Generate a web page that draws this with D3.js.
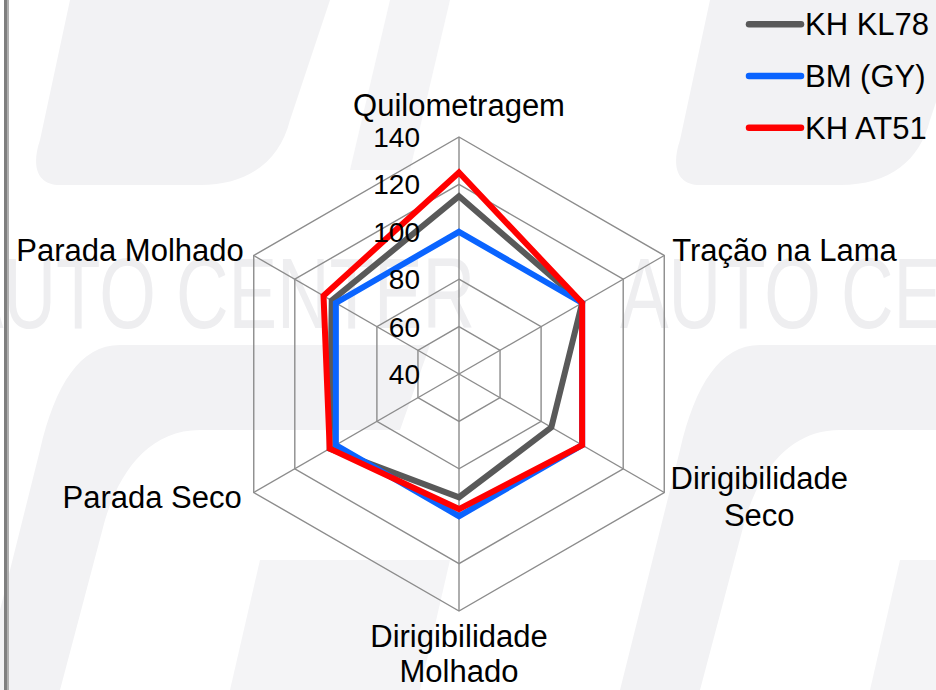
<!DOCTYPE html>
<html>
<head>
<meta charset="utf-8">
<script src="https://cdn.jsdelivr.net/npm/d3@7/dist/d3.min.js"></script>
<style>
  html, body { margin: 0; padding: 0; background: #ffffff; }
  svg { display: block; font-family: "Liberation Sans", Arial, sans-serif; }
</style>
</head>
<body>
<svg id="chart" width="936" height="690"></svg>
<script>
// ---- data ----
const axes = ["Quilometragem", "Tração na Lama", "Dirigibilidade Seco", "Dirigibilidade Molhado", "Parada Seco", "Parada Molhado"];
const seriesNames = ["KH KL78", "BM (GY)", "KH AT51"];
const khKL78 = [115, 100, 85, 92, 103, 102];
const bmGY   = [100, 100, 100, 100, 100, 100];
const khAT51 = [125, 100, 100, 97, 103, 106];
const tickValues = [40, 60, 80, 100, 120, 140];
const seriesColors = ["#595959", "#0a64ff", "#ff0000"];

// ---- layout ----
const svg = d3.select("#chart");
const W = 936, H = 690;
const cx = 459, cy = 374, R = 237;
const r = d3.scaleLinear().domain([40, 140]).range([0, R]);
const angle = d3.scaleLinear().domain([0, axes.length]).range([-Math.PI / 2, 1.5 * Math.PI]);
const pt = (i, v) => [cx + r(v) * Math.cos(angle(i)), cy + r(v) * Math.sin(angle(i))];

// ---- watermark background ----
const wm = svg.append("g").attr("class", "watermark");
[0, 640].forEach(off => {
  wm.append("path")
    .attr("d", `M${off + 70},0 L${off + 330},0 L${off + 290},120 C${off + 280},160 ${off + 250},185 ${off + 200},185 L${off + 60},185 C${off + 40},185 ${off + 30},170 ${off + 40},140 Z`)
    .attr("fill", "#f2f2f4");
  wm.append("path")
    .attr("d", `M${off + 390},0 L${off + 450},0 L${off + 410},170 L${off + 350},170 Z`)
    .attr("fill", "#f4f4f6");
  wm.append("path")
    .attr("d", `M${off + 120},345 L${off + 430},345 L${off + 400},430 L${off + 200},430 C${off + 150},430 ${off + 120},470 ${off + 105},520 L${off + 60},690 L${off - 20},690 L${off + 40},450 C${off + 55},385 ${off + 80},345 ${off + 120},345 Z`)
    .attr("fill", "#f2f2f4");
  wm.append("path")
    .attr("d", `M${off + 260},560 L${off + 450},560 L${off + 420},690 L${off + 230},690 Z`)
    .attr("fill", "#f4f4f6");
});
[-45, 620].forEach(x0 => {
  wm.append("text")
    .attr("x", x0).attr("y", 328)
    .attr("font-size", 100)
    .attr("textLength", 520).attr("lengthAdjust", "spacingAndGlyphs")
    .attr("fill", "#eeeef0")
    .text("AUTO CENTER");
});

// left frame bar
svg.append("rect").attr("x", 4).attr("y", 0).attr("width", 3).attr("height", H).attr("fill", "#7f7f7f");
svg.append("rect").attr("x", 7).attr("y", 0).attr("width", 2).attr("height", H).attr("fill", "#b0b0b0");

// ---- grid ----
const grid = svg.append("g");
tickValues.filter(v => v > 40).forEach(v => {
  grid.append("polygon")
    .attr("points", axes.map((a, i) => pt(i, v).join(",")).join(" "))
    .attr("fill", "none").attr("stroke", "#8c8c8c").attr("stroke-width", 1.4);
});
axes.forEach((a, i) => {
  const [x, y] = pt(i, 140);
  grid.append("line").attr("x1", cx).attr("y1", cy).attr("x2", x).attr("y2", y)
    .attr("stroke", "#8c8c8c").attr("stroke-width", 1.4);
});

// ---- series ----
const allSeries = [khKL78, bmGY, khAT51];
const lineGen = d3.lineRadial().angle((d, i) => angle(i) + Math.PI / 2).radius(d => r(d)).curve(d3.curveLinearClosed);
allSeries.forEach((vals, k) => {
  svg.append("path")
    .attr("transform", `translate(${cx},${cy})`)
    .attr("d", lineGen(vals))
    .attr("fill", "none")
    .attr("stroke", seriesColors[k])
    .attr("stroke-width", 6)
    .attr("stroke-linejoin", "miter");
});

// ---- tick labels ----
svg.append("g").selectAll("text").data(tickValues).join("text")
  .attr("x", cx - 39)
  .attr("y", d => cy - r(d))
  .attr("dy", "0.36em")
  .attr("text-anchor", "end")
  .attr("font-size", 28)
  .attr("fill", "#000")
  .text(d => d);

// ---- axis labels ----
const labelLines = [["Quilometragem"], ["Tração na Lama"], ["Dirigibilidade", "Seco"], ["Dirigibilidade", "Molhado"], ["Parada Seco"], ["Parada Molhado"]];
const labelOffsets = [
  { dx: 0, dy: -21, anchor: "middle" },
  { dx: 8, dy: 5, anchor: "start" },
  { dx: 95, dy: -4, anchor: "middle" },
  { dx: 0, dy: 36, anchor: "middle" },
  { dx: -12, dy: 15, anchor: "end" },
  { dx: -10, dy: 5, anchor: "end" }
];
const lineGap = [0, 0, 37, 35, 0, 0];
const labels = svg.append("g");
labelLines.forEach((lines, i) => {
  const [vx, vy] = pt(i, 140);
  const o = labelOffsets[i];
  const t = labels.append("text")
    .attr("x", vx + o.dx).attr("y", vy + o.dy)
    .attr("text-anchor", o.anchor)
    .attr("font-size", 31)
    .attr("fill", "#000");
  lines.forEach((ln, j) => {
    t.append("tspan").attr("x", vx + o.dx).attr("dy", j === 0 ? 0 : lineGap[i]).text(ln);
  });
});

// ---- legend ----
const legend = svg.append("g");
seriesNames.forEach((name, k) => {
  const y = 24.3 + k * 51.7;
  legend.append("line").attr("x1", 749).attr("x2", 801).attr("y1", y).attr("y2", y)
    .attr("stroke", seriesColors[k]).attr("stroke-width", 6.5).attr("stroke-linecap", "round");
  legend.append("text").attr("x", 805).attr("y", y + 11)
    .attr("font-size", 31).attr("fill", "#000").text(name);
});
</script>
</body>
</html>
